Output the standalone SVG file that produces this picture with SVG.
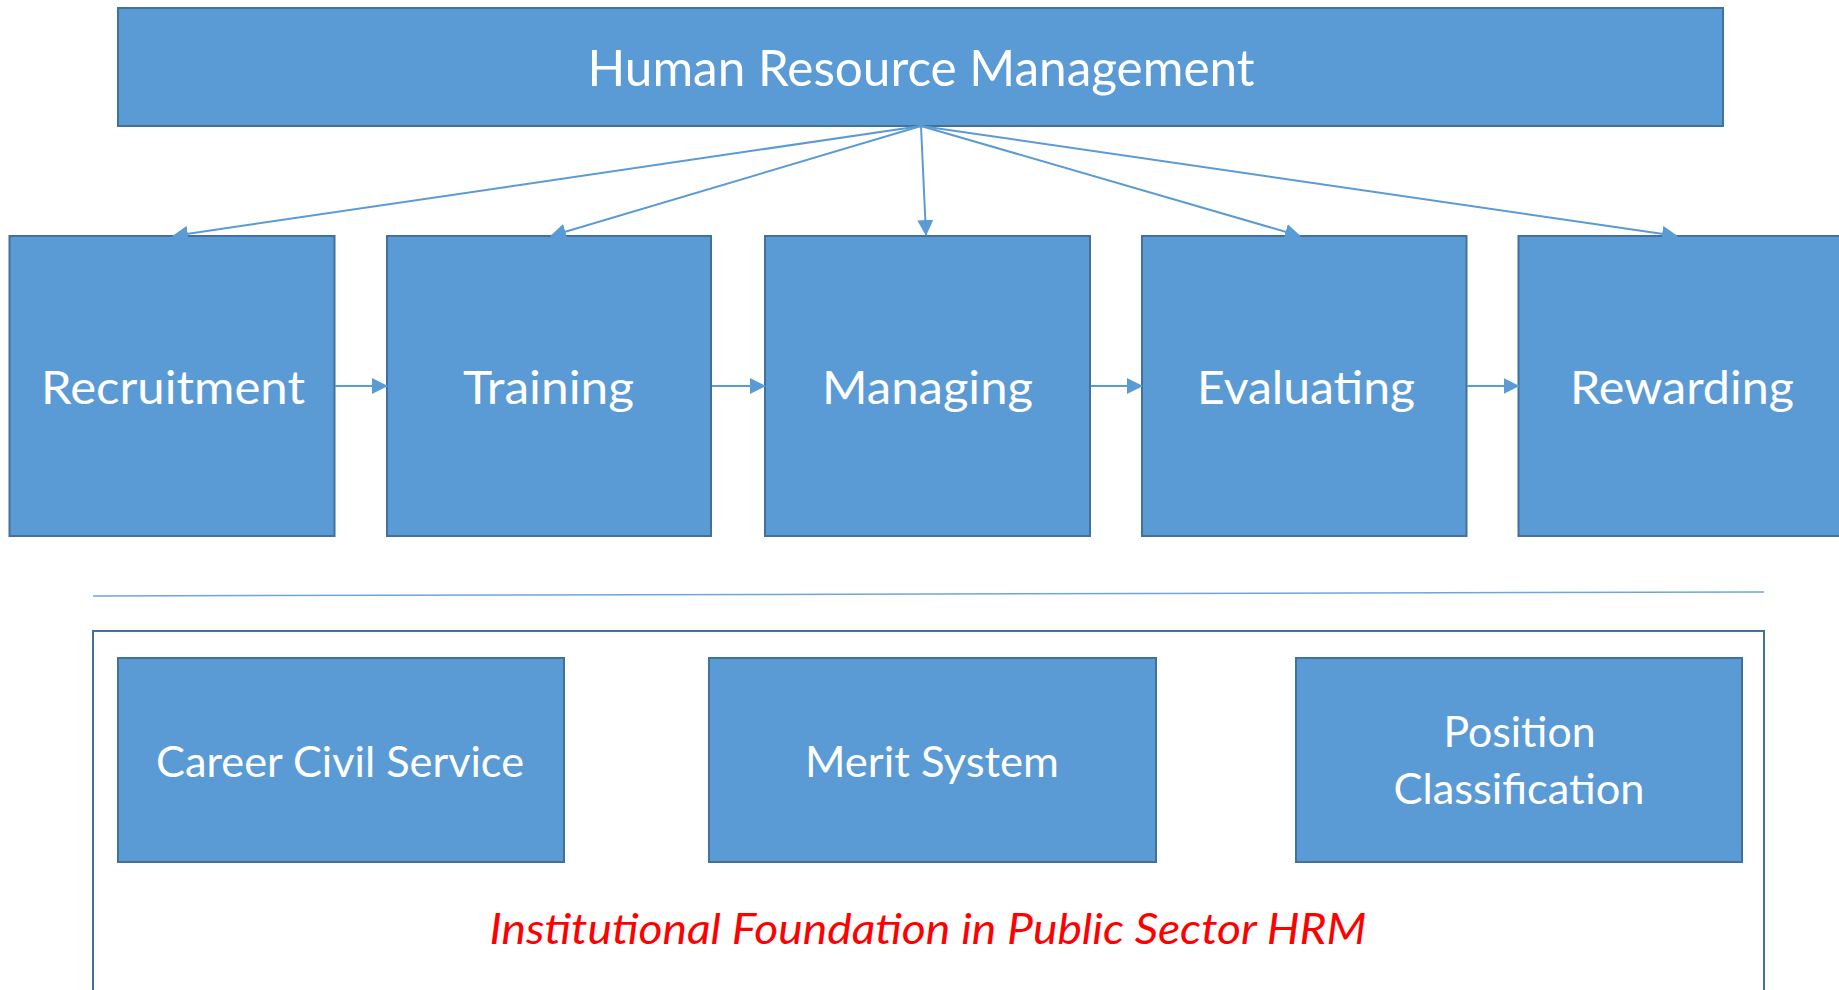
<svg xmlns="http://www.w3.org/2000/svg" width="1839" height="990" viewBox="0 0 1839 990">
  <style>
    .box { fill: #5B9BD5; stroke: #41719C; stroke-width: 2; }
    .lbl { font-family: Lato, "Open Sans", "Liberation Sans", sans-serif; fill: #FFFFFF; text-anchor: middle; }
    .conn { stroke: #5B9BD5; stroke-width: 2; fill: none; }
    .note { font-family: Lato, "Open Sans", "Liberation Sans", sans-serif; font-style: italic; fill: #FF0000; text-anchor: middle; }
  </style>
  <defs>
    <marker id="arrow" markerUnits="userSpaceOnUse" markerWidth="16" markerHeight="16" viewBox="0 0 16 16" refX="15" refY="8" orient="auto">
      <path d="M0,0 L16,8 L0,16 z" fill="#5B9BD5"/>
    </marker>
  </defs>
  <rect width="1839" height="990" fill="#FFFFFF"/>

  <!-- top node -->
  <g id="hrm">
    <rect class="box" x="118" y="8" width="1605" height="118"/>
    <text class="lbl" x="921" y="86" font-size="50" textLength="667" lengthAdjust="spacingAndGlyphs">Human Resource Management</text>
  </g>

  <!-- process row -->
  <g id="recruitment">
    <rect class="box" x="9.5" y="236" width="325" height="300"/>
    <text class="lbl" x="173" y="404" font-size="46" textLength="264" lengthAdjust="spacingAndGlyphs">Recruitment</text>
  </g>
  <g id="training">
    <rect class="box" x="387" y="236" width="324" height="300"/>
    <text class="lbl" x="548.5" y="404" font-size="46" textLength="171" lengthAdjust="spacingAndGlyphs">Training</text>
  </g>
  <g id="managing">
    <rect class="box" x="765" y="236" width="325" height="300"/>
    <text class="lbl" x="927.5" y="404" font-size="46" textLength="211" lengthAdjust="spacingAndGlyphs">Managing</text>
  </g>
  <g id="evaluating">
    <rect class="box" x="1142" y="236" width="324.5" height="300"/>
    <text class="lbl" x="1306" y="404" font-size="46" textLength="218" lengthAdjust="spacingAndGlyphs">Evaluating</text>
  </g>
  <g id="rewarding">
    <rect class="box" x="1518.5" y="236" width="325" height="300"/>
    <text class="lbl" x="1682" y="404" font-size="46" textLength="224" lengthAdjust="spacingAndGlyphs">Rewarding</text>
  </g>

  <!-- connectors -->
  <g id="connectors">
    <line class="conn" x1="921" y1="126" x2="173" y2="236" marker-end="url(#arrow)"/>
    <line class="conn" x1="921" y1="126" x2="551" y2="236" marker-end="url(#arrow)"/>
    <line class="conn" x1="921" y1="126" x2="926" y2="235" marker-end="url(#arrow)"/>
    <line class="conn" x1="921" y1="126" x2="1300" y2="236" marker-end="url(#arrow)"/>
    <line class="conn" x1="921" y1="126" x2="1677" y2="236" marker-end="url(#arrow)"/>
    <line class="conn" x1="335" y1="386" x2="387" y2="386" marker-end="url(#arrow)"/>
    <line class="conn" x1="712" y1="386" x2="765" y2="386" marker-end="url(#arrow)"/>
    <line class="conn" x1="1091" y1="386" x2="1142" y2="386" marker-end="url(#arrow)"/>
    <line class="conn" x1="1467" y1="386" x2="1518.5" y2="386" marker-end="url(#arrow)"/>
  </g>

  <!-- divider -->
  <line x1="93" y1="596" x2="1764" y2="592" stroke="#6FA6DA" stroke-width="1.5"/>

  <!-- institutional foundation panel -->
  <g id="foundation">
    <rect x="93" y="631" width="1671" height="400" fill="#FFFFFF" stroke="#41719C" stroke-width="2"/>
    <text class="note" x="928" y="944" font-size="42" textLength="877" lengthAdjust="spacingAndGlyphs">Institutional Foundation in Public Sector HRM</text>
  </g>
  <g id="career-civil-service">
    <rect class="box" x="118" y="658" width="446" height="204"/>
    <text class="lbl" x="340" y="777" font-size="43" textLength="368" lengthAdjust="spacingAndGlyphs">Career Civil Service</text>
  </g>
  <g id="merit-system">
    <rect class="box" x="709" y="658" width="447" height="204"/>
    <text class="lbl" x="932" y="777" font-size="43" textLength="254" lengthAdjust="spacingAndGlyphs">Merit System</text>
  </g>
  <g id="position-classification">
    <rect class="box" x="1296" y="658" width="446" height="204"/>
    <text class="lbl" x="1519.5" y="747" font-size="43" textLength="152" lengthAdjust="spacingAndGlyphs">Position</text>
    <text class="lbl" x="1519" y="804" font-size="43" textLength="251" lengthAdjust="spacingAndGlyphs">Classification</text>
  </g>
</svg>
